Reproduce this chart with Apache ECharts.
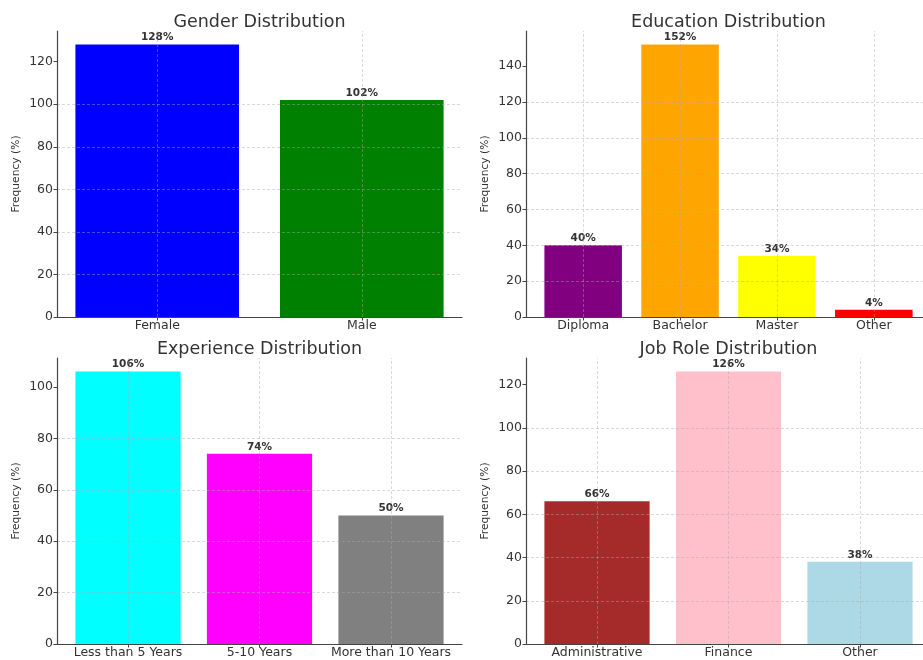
<!DOCTYPE html>
<html><head><meta charset="utf-8">
<script src="https://cdn.jsdelivr.net/npm/echarts@6/dist/echarts.min.js"></script>
<style>html,body{margin:0;padding:0;background:#fff}#c{width:923px;height:660px}</style>
</head><body><div id="c"></div>
<script>
const genderCategories = ['Female', 'Male'];
const genderValues = [128, 102];
const genderColors = ['#0000ff', '#008000'];
const genderYTicks = [0, 20, 40, 60, 80, 100, 120];

const educationCategories = ['Diploma', 'Bachelor', 'Master', 'Other'];
const educationValues = [40, 152, 34, 4];
const educationColors = ['#800080', '#ffa500', '#ffff00', '#ff0000'];
const educationYTicks = [0, 20, 40, 60, 80, 100, 120, 140];

const experienceCategories = ['Less than 5 Years', '5-10 Years', 'More than 10 Years'];
const experienceValues = [106, 74, 50];
const experienceColors = ['#00ffff', '#ff00ff', '#808080'];
const experienceYTicks = [0, 20, 40, 60, 80, 100];

const jobCategories = ['Administrative', 'Finance', 'Other'];
const jobValues = [66, 126, 38];
const jobColors = ['#a52a2a', '#ffc0cb', '#add8e6'];
const jobYTicks = [0, 20, 40, 60, 80, 100, 120];

const FONT = 'DejaVu Sans';
const TXT = '#333333';
const AX = '#444444';
const GRIDC = 'rgba(170,170,170,0.55)';
const FULLW = 405, H = 286, CANVASW = 923;

const panels = [
  { title: 'Gender Distribution', cats: genderCategories, vals: genderValues, colors: genderColors, ticks: genderYTicks, left: 57, top: 31 },
  { title: 'Education Distribution', cats: educationCategories, vals: educationValues, colors: educationColors, ticks: educationYTicks, left: 526, top: 31 },
  { title: 'Experience Distribution', cats: experienceCategories, vals: experienceValues, colors: experienceColors, ticks: experienceYTicks, left: 57, top: 358 },
  { title: 'Job Role Distribution', cats: jobCategories, vals: jobValues, colors: jobColors, ticks: jobYTicks, left: 526, top: 358 }
];
// visible width of each plot (right column is cut by the canvas edge)
panels.forEach(p => { p.w = Math.min(FULLW, CANVASW - p.left); });

const chart = echarts.init(document.getElementById('c'), null, { renderer: 'canvas' });

const option = {
  animation: false,
  backgroundColor: '#ffffff',
  title: panels.map(p => ({
    text: p.title, left: p.left + FULLW / 2, top: p.top - 18, textAlign: 'center', padding: 0,
    textStyle: { fontFamily: FONT, fontSize: 17.5, fontWeight: 'normal', color: TXT }
  })),
  grid: panels.map(p => ({ left: p.left, top: p.top, width: p.w, height: H, containLabel: false })),
  xAxis: panels.map((p, i) => {
    const n = p.cats.length;
    const span = n - 1 + 0.8;
    const fullSpan = span * 1.1;
    const xmin = -0.4 - 0.05 * span;
    const idx = p.cats.map((c, k) => k);
    return {
      type: 'value', gridIndex: i, z: 3,
      min: xmin, max: xmin + fullSpan * (p.w / FULLW),
      axisLine: { show: true, onZero: false, lineStyle: { color: AX, width: 1.2 } },
      axisTick: { show: true, length: 3.5, customValues: idx, lineStyle: { color: AX } },
      axisLabel: { customValues: idx, formatter: v => p.cats[Math.round(v)], margin: 2,
        fontFamily: FONT, fontSize: 12.5, color: TXT },
      splitLine: { show: false }
    };
  }),
  yAxis: panels.map((p, i) => ({
    type: 'value', gridIndex: i, z: 3,
    min: 0, max: 1.05 * Math.max(...p.vals),
    name: 'Frequency (%)', nameLocation: 'middle', nameGap: 35,
    nameTextStyle: { fontFamily: FONT, fontSize: 10.7, color: TXT },
    axisLine: { show: true, onZero: false, lineStyle: { color: AX, width: 1.2 } },
    axisTick: { show: true, length: 3.5, customValues: p.ticks, lineStyle: { color: AX } },
    axisLabel: { customValues: p.ticks, margin: 4, fontFamily: FONT, fontSize: 12.5, color: TXT },
    splitLine: { show: true, showMinLine: false, showMaxLine: false,
      lineStyle: { color: GRIDC, type: [3, 2], width: 0.8 } }
  })),
  series: panels.map((p, i) => ({
    type: 'bar', xAxisIndex: i, yAxisIndex: i, barWidth: '80%', z: 2,
    data: p.vals.map((v, k) => ({ value: [k, v], itemStyle: { color: p.colors[k] } })),
    label: { show: true, position: 'top', distance: 1.5, formatter: q => q.value[1] + '%',
      fontFamily: FONT, fontWeight: 'bold', fontSize: 10.5, color: TXT },
    markLine: {
      silent: true, symbol: ['none', 'none'], label: { show: false },
      lineStyle: { color: GRIDC, type: [3, 2], width: 0.8 },
      emphasis: { disabled: true },
      data: p.cats.map((c, k) => ({ xAxis: k }))
    }
  }))
};
chart.setOption(option);
</script>
</body></html>
